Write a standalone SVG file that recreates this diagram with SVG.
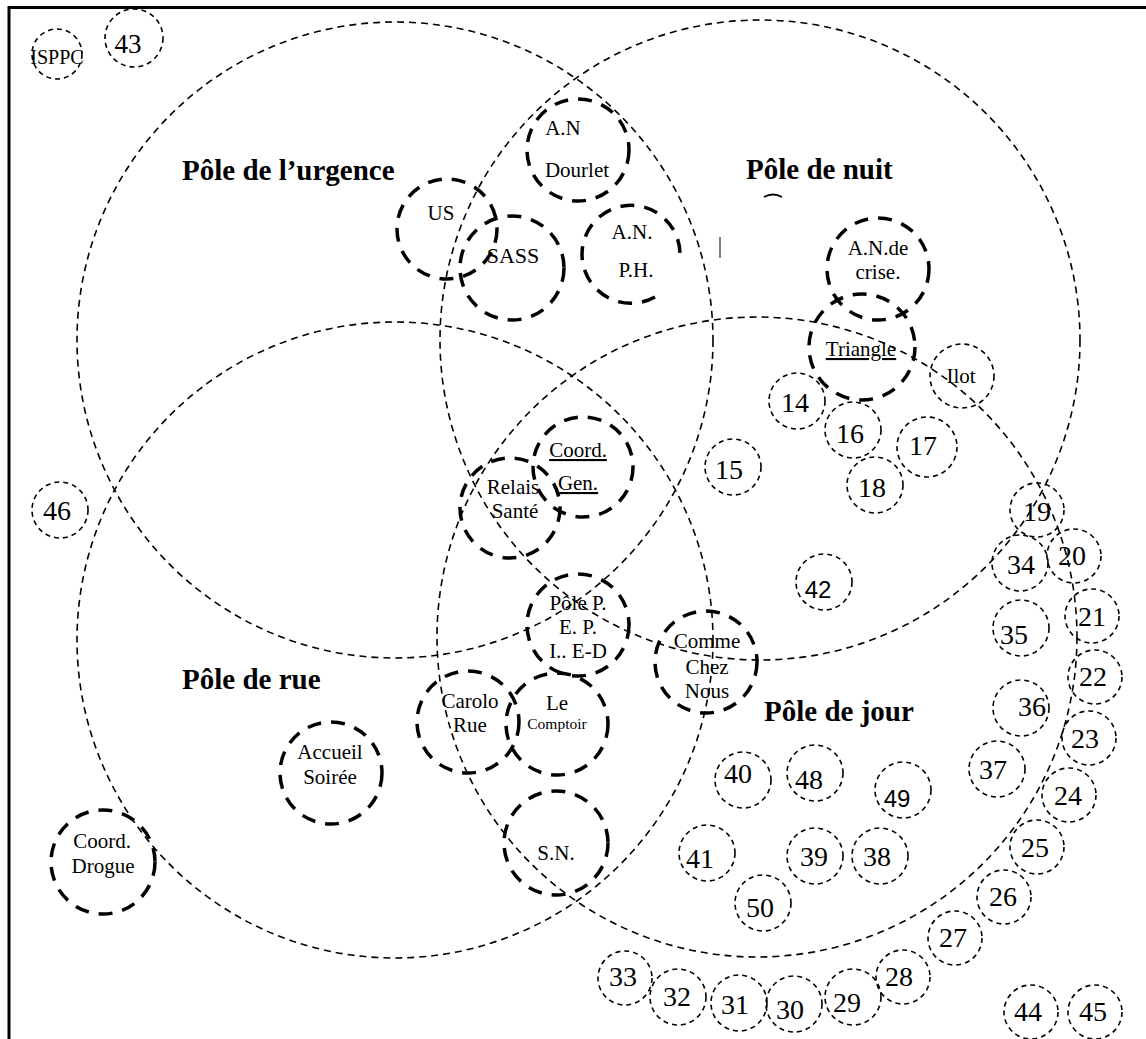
<svg xmlns="http://www.w3.org/2000/svg" width="1146" height="1039" viewBox="0 0 1146 1039">
<style>
.zone{fill:none;stroke:#000;stroke-width:1.6;stroke-dasharray:7 5}
.small{fill:none;stroke:#000;stroke-width:1.6;stroke-dasharray:5 4}
.node{fill:none;stroke:#000;stroke-width:3.5;stroke-dasharray:14 10}
text{font-family:"Liberation Serif","Times New Roman",serif;fill:#000;text-anchor:middle}
.lbl{font-size:21px}
.num{font-size:28px}
.sans{font-family:"Liberation Sans",Arial,sans-serif;font-size:24px}
.head{font-size:29px;font-weight:bold;text-anchor:start}
.u{text-decoration:underline}
</style>
<rect x="0" y="0" width="1146" height="1039" fill="#fff"/>
<rect x="9" y="7.5" width="1200" height="1100" fill="none" stroke="#000" stroke-width="3"/>
<g id="zones">
<circle class="zone" cx="395" cy="340" r="318"/>
<circle class="zone" cx="760" cy="340" r="320"/>
<circle class="zone" cx="395" cy="640" r="318"/>
<circle class="zone" cx="757" cy="637" r="320"/>
</g>
<g id="headings">
<text class="head" x="182" y="180">Pôle de l’urgence</text>
<text class="head" x="746" y="179">Pôle de nuit</text>
<text class="head" x="182" y="689">Pôle de rue</text>
<text class="head" x="764" y="721">Pôle de jour</text>
</g>
<g id="marks">
<path d="M764,197 Q773,192 782,197" fill="none" stroke="#000" stroke-width="2"/>
<line x1="720" y1="237" x2="720" y2="258" stroke="#000" stroke-width="1"/>
</g>
<g id="n-isppc"><circle class="small" cx="57" cy="54" r="25"/><text class="lbl" x="57" y="64" style="font-size:20px">ISPPC</text></g>
<g id="n-43"><circle class="small" cx="134" cy="38" r="29"/><text class="num" x="128" y="53" style="font-size:27px">43</text></g>
<g id="n-dourlet"><circle class="node" cx="578" cy="150" r="51"/><text class="lbl" x="563" y="135">A.N</text><text class="lbl" x="577" y="177">Dourlet</text></g>
<g id="n-us"><circle class="node" cx="447" cy="229" r="50"/><text class="lbl" x="441" y="220">US</text></g>
<g id="n-sass"><circle class="node" cx="512" cy="268" r="52"/><text class="lbl" x="513" y="263" style="font-size:22px">SASS</text></g>
<g id="n-anph"><path class="node" d="M655,297 A49,49 0 1 1 680,255"/><text class="lbl" x="632" y="239">A.N.</text><text class="lbl" x="636" y="277">P.H.</text></g>
<g id="n-crise"><circle class="node" cx="878" cy="269" r="51"/><text class="lbl" x="878" y="255">A.N.de</text><text class="lbl" x="878" y="279">crise.</text></g>
<g id="n-triangle"><circle class="node" cx="862" cy="347" r="53"/><text class="lbl u" x="861" y="356">Triangle</text></g>
<g id="n-ilot"><circle class="small" cx="962" cy="376" r="32"/><text class="lbl" x="961" y="383">Ilot</text></g>
<g id="n-coordgen"><circle class="node" cx="583" cy="467" r="50"/><text class="lbl u" x="578" y="457">Coord.</text><text class="lbl u" x="578" y="490">Gen.</text></g>
<g id="n-relais"><circle class="node" cx="510" cy="508" r="50"/><text class="lbl" x="513" y="494">Relais</text><text class="lbl" x="515" y="518">Santé</text></g>
<g id="n-pep"><circle class="node" cx="578" cy="625" r="51"/><text class="lbl" x="578" y="610">Pôle P.</text><text class="lbl" x="578" y="634">E. P.</text><text class="lbl" x="578" y="658">I.. E-D</text></g>
<g id="n-ccn"><circle class="node" cx="706" cy="662" r="51"/><text class="lbl" x="707" y="648">Comme</text><text class="lbl" x="707" y="674">Chez</text><text class="lbl" x="707" y="698">Nous</text></g>
<g id="n-carolo"><circle class="node" cx="468" cy="722" r="51"/><text class="lbl" x="470" y="708">Carolo</text><text class="lbl" x="470" y="732">Rue</text></g>
<g id="n-comptoir"><circle class="node" cx="557" cy="724" r="51"/><text class="lbl" x="557" y="710">Le</text><text x="557" y="729" style="font-size:15.5px">Comptoir</text></g>
<g id="n-sn"><circle class="node" cx="556" cy="843" r="52"/><text class="lbl" x="556" y="860">S.N.</text></g>
<g id="n-accueil"><circle class="node" cx="331" cy="773" r="51"/><text class="lbl" x="330" y="759">Accueil</text><text class="lbl" x="330" y="784">Soirée</text></g>
<g id="n-drogue"><circle class="node" cx="103" cy="862" r="52"/><text class="lbl" x="102" y="848">Coord.</text><text class="lbl" x="103" y="873">Drogue</text></g>
<g id="n-46"><circle class="small" cx="60" cy="510" r="28"/><text class="num" x="57" y="520">46</text></g>
<g id="n-14"><circle class="small" cx="797" cy="401" r="28"/><text class="num" x="795" y="412">14</text></g>
<g id="n-15"><circle class="small" cx="733" cy="467" r="28"/><text class="num" x="729" y="479">15</text></g>
<g id="n-16"><circle class="small" cx="853" cy="430" r="28"/><text class="num" x="850" y="443">16</text></g>
<g id="n-17"><circle class="small" cx="927" cy="447" r="30"/><text class="num" x="923" y="455">17</text></g>
<g id="n-18"><circle class="small" cx="875" cy="485" r="28"/><text class="num" x="872" y="497">18</text></g>
<g id="n-42"><circle class="small" cx="824" cy="582" r="28"/><text class="sans" x="818" y="598">42</text></g>
<g id="n-19"><circle class="small" cx="1037" cy="510" r="27"/><text class="num" x="1037" y="521">19</text></g>
<g id="n-20"><circle class="small" cx="1074" cy="556" r="27"/><text class="num" x="1072" y="565">20</text></g>
<g id="n-34"><circle class="small" cx="1020" cy="563" r="28"/><text class="num" x="1021" y="574">34</text></g>
<g id="n-21"><circle class="small" cx="1092" cy="616" r="27"/><text class="num" x="1092" y="626">21</text></g>
<g id="n-35"><circle class="small" cx="1021" cy="628" r="28"/><text class="num" x="1014" y="644">35</text></g>
<g id="n-22"><circle class="small" cx="1095" cy="677" r="27"/><text class="num" x="1093" y="686">22</text></g>
<g id="n-36"><circle class="small" cx="1021" cy="708" r="28"/><text class="num" x="1032" y="716">36</text></g>
<g id="n-23"><circle class="small" cx="1089" cy="738" r="27"/><text class="num" x="1085" y="748">23</text></g>
<g id="n-37"><circle class="small" cx="997" cy="769" r="28"/><text class="num" x="993" y="779">37</text></g>
<g id="n-24"><circle class="small" cx="1069" cy="795" r="27"/><text class="num" x="1068" y="805">24</text></g>
<g id="n-25"><circle class="small" cx="1037" cy="847" r="27"/><text class="num" x="1035" y="857">25</text></g>
<g id="n-26"><circle class="small" cx="1004" cy="897" r="27"/><text class="num" x="1003" y="906">26</text></g>
<g id="n-27"><circle class="small" cx="955" cy="938" r="27"/><text class="num" x="953" y="947">27</text></g>
<g id="n-28"><circle class="small" cx="903" cy="977" r="27"/><text class="num" x="899" y="986">28</text></g>
<g id="n-29"><circle class="small" cx="853" cy="997" r="28"/><text class="num" x="847" y="1012">29</text></g>
<g id="n-30"><circle class="small" cx="794" cy="1004" r="28"/><text class="num" x="790" y="1019">30</text></g>
<g id="n-31"><circle class="small" cx="739" cy="1003" r="28"/><text class="num" x="735" y="1014">31</text></g>
<g id="n-32"><circle class="small" cx="678" cy="997" r="28"/><text class="num" x="677" y="1006">32</text></g>
<g id="n-33"><circle class="small" cx="625" cy="978" r="27"/><text class="num" x="623" y="986">33</text></g>
<g id="n-44"><circle class="small" cx="1031" cy="1012" r="27"/><text class="num" x="1028" y="1021">44</text></g>
<g id="n-45"><circle class="small" cx="1095" cy="1012" r="27"/><text class="num" x="1093" y="1021">45</text></g>
<g id="n-40"><circle class="small" cx="743" cy="780" r="28"/><text class="num" x="738" y="783">40</text></g>
<g id="n-48"><circle class="small" cx="815" cy="773" r="28"/><text class="num" x="809" y="789">48</text></g>
<g id="n-49"><circle class="small" cx="903" cy="790" r="28"/><text class="sans" x="897" y="807">49</text></g>
<g id="n-41"><circle class="small" cx="707" cy="853" r="28"/><text class="num" x="700" y="868">41</text></g>
<g id="n-39"><circle class="small" cx="815" cy="856" r="28"/><text class="num" x="814" y="866">39</text></g>
<g id="n-38"><circle class="small" cx="880" cy="856" r="28"/><text class="num" x="877" y="866">38</text></g>
<g id="n-50"><circle class="small" cx="763" cy="903" r="28"/><text class="num" x="760" y="917">50</text></g>
</svg>
